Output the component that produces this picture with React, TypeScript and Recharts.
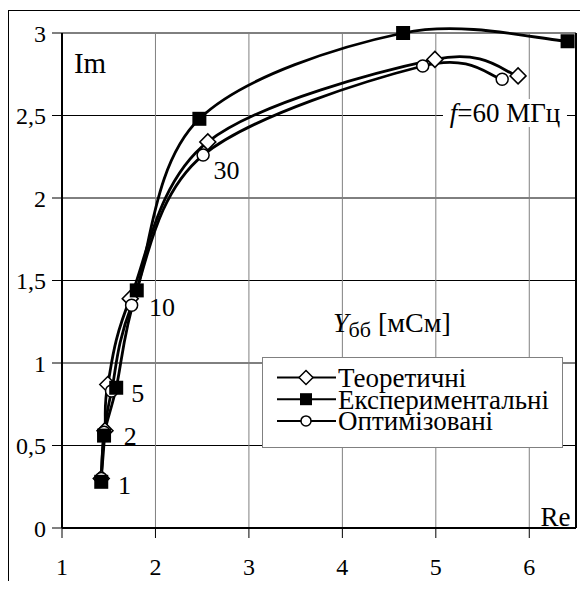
import React from "react";
import { LineChart, Line, XAxis, YAxis, CartesianGrid, ReferenceLine, ReferenceDot } from "recharts";

const FONT = "Liberation Serif, DejaVu Serif, serif";

// Y (мСм): Re on x, Im on y
const theoryRe = [1.42, 1.46, 1.49, 1.73, 2.56, 4.99, 5.88];
const theoryIm = [0.3, 0.59, 0.87, 1.39, 2.34, 2.84, 2.74];
const experRe = [1.42, 1.45, 1.58, 1.8, 2.47, 4.65, 6.41];
const experIm = [0.28, 0.56, 0.85, 1.44, 2.48, 3.0, 2.95];
const optRe = [1.42, 1.45, 1.53, 1.745, 2.51, 4.86, 5.71];
const optIm = [0.3, 0.58, 0.83, 1.35, 2.26, 2.8, 2.72];

const xTicks = [1, 2, 3, 4, 5, 6];
const yTicks = [0, 0.5, 1, 1.5, 2, 2.5, 3];

// frequency marks (MHz) next to the points
const freqText = ["1", "2", "5", "10", "30"];
const freqRe = [1.67, 1.73, 1.81, 2.07, 2.76];
const freqIm = [0.26, 0.56, 0.82, 1.34, 2.17];

const legendNames = ["Теоретичні", "Експериментальні", "Оптимізовані"];

const toRows = (xs: number[], ys: number[]) => xs.map((x, i) => ({ x, y: ys[i] }));
const theoryData = toRows(theoryRe, theoryIm);
const experData = toRows(experRe, experIm);
const optData = toRows(optRe, optIm);

// excel-like smoothing (catmull-rom through the points)
const smooth: any = (ctx: any) => {
  let pts: number[][] = [];
  return {
    areaStart() {},
    areaEnd() {},
    lineStart() {
      pts = [];
    },
    point(x: number, y: number) {
      pts.push([x, y]);
    },
    lineEnd() {
      if (!pts.length) return;
      ctx.moveTo(pts[0][0], pts[0][1]);
      for (let i = 0; i < pts.length - 1; i++) {
        const p0 = pts[i - 1] || pts[i];
        const p1 = pts[i];
        const p2 = pts[i + 1];
        const p3 = pts[i + 2] || p2;
        ctx.bezierCurveTo(
          p1[0] + (p2[0] - p0[0]) / 6,
          p1[1] + (p2[1] - p0[1]) / 6,
          p2[0] - (p3[0] - p1[0]) / 6,
          p2[1] - (p3[1] - p1[1]) / 6,
          p2[0],
          p2[1]
        );
      }
    },
  };
};

const diamond = (cx: number, cy: number, s: number, key?: any) => (
  <path key={key} d={`M${cx},${cy - s}L${cx + s},${cy}L${cx},${cy + s}L${cx - s},${cy}Z`} fill="#fff" stroke="#000" strokeWidth={1.5} />
);
const square = (cx: number, cy: number, s: number, key?: any) => (
  <rect key={key} x={cx - s} y={cy - s} width={s * 2} height={s * 2} fill="#000" />
);
const circle = (cx: number, cy: number, r: number, key?: any) => (
  <circle key={key} cx={cx} cy={cy} r={r} fill="#fff" stroke="#000" strokeWidth={1.5} />
);

const DiamondDot = (p: any) => diamond(p.cx, p.cy, 8, p.index);
const SquareDot = (p: any) => square(p.cx, p.cy, 7, p.index);
const CircleDot = (p: any) => circle(p.cx, p.cy, 6, p.index);

const legendMarks = [
  (x: number, y: number) => diamond(x, y, 7),
  (x: number, y: number) => square(x, y, 6),
  (x: number, y: number) => circle(x, y, 5),
];

const textAt = (content: React.ReactNode, size = 27, box?: number) => (p: any) =>
  (
    <g>
      {box ? <rect x={p.cx - box / 2} y={p.cy - 14} width={box} height={28} fill="#fff" /> : null}
      <text x={p.cx} y={p.cy} dy="0.35em" textAnchor="middle" style={{ fontFamily: FONT, fontSize: size }} fill="#000">
        {content}
      </text>
    </g>
  );

const tickStyle = { fill: "#000", fontSize: 24, style: { fontFamily: FONT } };

export default function App() {
  return (
    <div style={{ position: "relative", width: 580, height: 573, overflow: "hidden", fontFamily: FONT }}>
      <div style={{ position: "absolute", left: 0, top: 2, width: 600, height: 600, borderTop: "1px solid #000", borderLeft: "1px solid #000" }} />
      <LineChart width={580} height={573} margin={{ top: 25, right: 12, left: 0, bottom: 0 }} style={{ fontFamily: FONT }}>
        <CartesianGrid horizontal vertical={false} stroke="#000" strokeWidth={1} />
        <CartesianGrid vertical horizontal={false} stroke="#808080" strokeWidth={1} />
        <XAxis
          type="number"
          dataKey="x"
          domain={[1, 6.5]}
          ticks={xTicks}
          height={53}
          tickSize={10}
          tickMargin={20}
          tick={tickStyle}
          tickLine={{ stroke: "#000" }}
          axisLine={{ stroke: "#000", strokeWidth: 2 }}
        />
        <YAxis
          type="number"
          domain={[0, 3]}
          ticks={yTicks}
          width={54}
          tickSize={10}
          tickMargin={6}
          tickFormatter={(v: number) => String(v).replace(".", ",")}
          tick={tickStyle}
          tickLine={{ stroke: "#000" }}
          axisLine={{ stroke: "#000", strokeWidth: 2 }}
        />
        <ReferenceLine x={6.5} stroke="#000" strokeWidth={2} />
        <Line data={theoryData} dataKey="y" type={smooth} stroke="#000" strokeWidth={2.8} dot={DiamondDot} isAnimationActive={false} />
        <Line data={optData} dataKey="y" type={smooth} stroke="#000" strokeWidth={2.8} dot={CircleDot} isAnimationActive={false} />
        <Line data={experData} dataKey="y" type={smooth} stroke="#000" strokeWidth={2.8} dot={SquareDot} isAnimationActive={false} />
        {freqText.map((t, i) => (
          <ReferenceDot key={t} x={freqRe[i]} y={freqIm[i]} r={0} shape={textAt(t, 26)} />
        ))}
        <ReferenceDot x={1.3} y={2.82} r={0} shape={textAt("Im", 29)} />
        <ReferenceDot x={6.28} y={0.067} r={0} shape={textAt("Re", 27)} />
        <ReferenceDot
          x={5.74}
          y={2.515}
          r={0}
          shape={textAt(
            <>
              <tspan fontStyle="italic">f</tspan>=60 МГц
            </>,
            27,
            124
          )}
        />
        <ReferenceDot
          x={4.53}
          y={1.25}
          r={0}
          shape={textAt(
            <>
              <tspan fontStyle="italic">Y</tspan>
              <tspan fontSize={22} dy={5}>бб</tspan>
              <tspan dy={-5}> [мСм]</tspan>
            </>,
            28
          )}
        />
      </LineChart>
      <div
        style={{
          position: "absolute",
          left: 254,
          top: 349,
          width: 299,
          height: 89,
          border: "1px solid #808080",
          background: "#fff",
        }}
      >
        <svg width={299} height={89}>
          {legendNames.map((name, i) => {
            const y = 19.5 + i * 21.7;
            return (
              <g key={name}>
                <line x1={14} x2={73} y1={y} y2={y} stroke="#000" strokeWidth={2} />
                {legendMarks[i](43, y)}
                <text x={75} y={y} dy="0.35em" style={{ fontFamily: FONT, fontSize: 27 }} fill="#000">
                  {name}
                </text>
              </g>
            );
          })}
        </svg>
      </div>
    </div>
  );
}
